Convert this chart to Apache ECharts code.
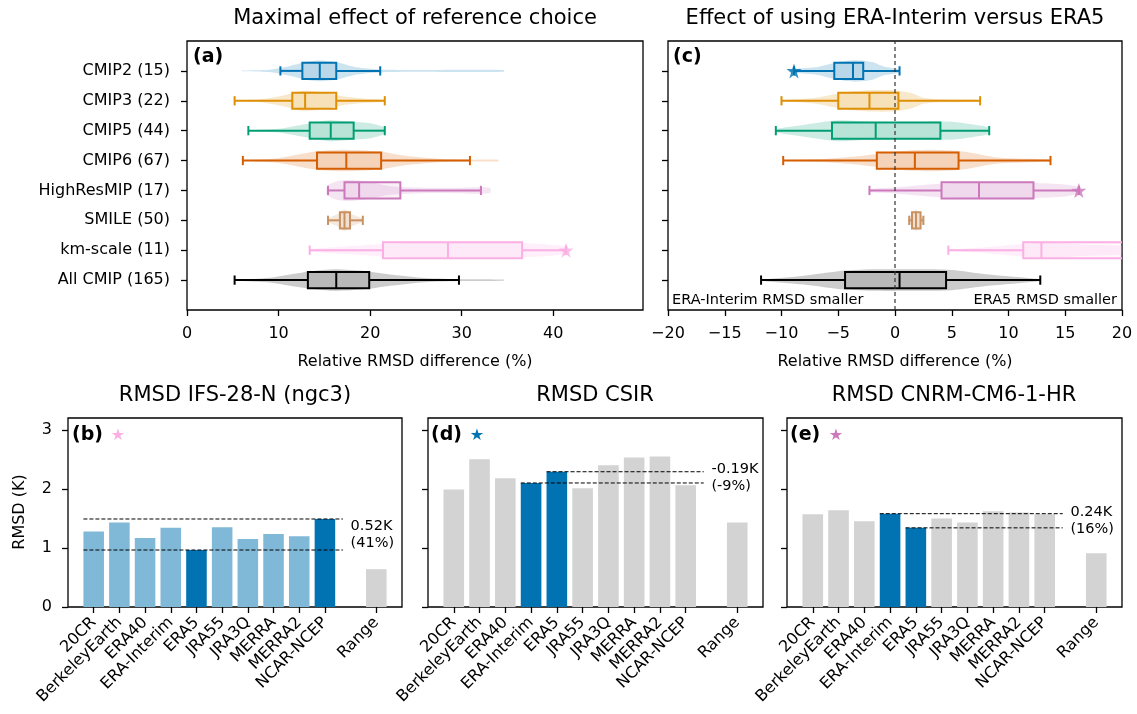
<!DOCTYPE html>
<html>
<head>
<meta charset="utf-8">
<script src="https://cdn.jsdelivr.net/npm/echarts@6/dist/echarts.min.js"></script>
<style>
  html, body { margin: 0; padding: 0; background: #fff; }
  #chart { width: 1137px; height: 714px; }
</style>
</head>
<body>
<div id="chart"></div>
<script>
// ---- data: top panels (row order from top to bottom) ----
var groupNames = ["CMIP2 (15)", "CMIP3 (22)", "CMIP5 (44)", "CMIP6 (67)",
  "HighResMIP (17)", "SMILE (50)", "km-scale (11)", "All CMIP (165)"];
var groupColors = ["#0173b2", "#de8f05", "#029e73", "#d55e00",
  "#cc78bc", "#ca9161", "#fbafe4", "#000000"];

// [whisker low, q1, median, q3, whisker high]
var maxEffectBox = [
  [10.2, 12.6, 14.5, 16.3, 21.1],
  [5.2, 11.5, 12.9, 16.3, 21.6],
  [6.7, 13.4, 15.7, 18.2, 21.6],
  [6.1, 14.2, 17.4, 21.2, 30.9],
  [15.4, 17.2, 18.8, 23.3, 32.1],
  [15.4, 16.7, 17.2, 17.8, 19.2],
  [13.4, 21.4, 28.5, 36.6, 41.4],
  [5.2, 13.2, 16.3, 19.9, 29.7]
];
var eraBox = [
  [-8.9, -5.35, -3.7, -2.8, 0.4],
  [-10.0, -5.0, -2.25, 0.3, 7.5],
  [-10.5, -5.55, -1.7, 4.0, 8.3],
  [-9.85, -1.6, 1.75, 5.6, 13.7],
  [-2.25, 4.1, 7.4, 12.2, 16.2],
  [1.25, 1.5, 1.85, 2.25, 2.5],
  [4.7, 11.3, 12.9, 24.0, 30.0],
  [-11.8, -4.4, 0.4, 4.5, 12.8]
];

// violin outlines: [value, half width in rows]
var maxEffectViolin = [
  [[6.0, 0.01], [9, 0.04], [11, 0.15], [13, 0.3], [14.5, 0.35], [16.5, 0.28], [18.5, 0.12], [21, 0.05], [25, 0.03], [30, 0.04], [34.6, 0.03]],
  [[5.2, 0.01], [8, 0.05], [10.5, 0.18], [12.5, 0.33], [14.5, 0.3], [17, 0.15], [19.5, 0.07], [21.6, 0.03]],
  [[6.7, 0.01], [10, 0.06], [13, 0.22], [15.5, 0.35], [18, 0.3], [20, 0.25], [21.6, 0.1]],
  [[6.1, 0.01], [10, 0.08], [14, 0.3], [17, 0.36], [21, 0.3], [24, 0.15], [28, 0.05], [31, 0.03], [34, 0.03]],
  [[15.3, 0.15], [16.5, 0.32], [18, 0.35], [20, 0.28], [22, 0.15], [25, 0.1], [29, 0.09], [32, 0.11], [33.1, 0.08]],
  [[15.4, 0.05], [16.4, 0.2], [17.2, 0.36], [18, 0.2], [19.2, 0.05]],
  [[13.4, 0.04], [17, 0.12], [21, 0.2], [25, 0.25], [30, 0.27], [35, 0.25], [39, 0.2], [41.6, 0.1]],
  [[5.2, 0.01], [9, 0.08], [12.5, 0.25], [16, 0.36], [19.5, 0.3], [22.5, 0.18], [26, 0.07], [30, 0.03], [34.6, 0.02]]
];
var eraViolin = [
  [[-9.2, 0.05], [-7, 0.12], [-5, 0.3], [-3.5, 0.36], [-2, 0.3], [-1, 0.15], [0.4, 0.05]],
  [[-10.0, 0.01], [-7, 0.1], [-4.5, 0.28], [-2, 0.36], [0, 0.35], [1.5, 0.25], [2.5, 0.1], [4, 0.05], [7.5, 0.03]],
  [[-10.5, 0.05], [-8, 0.2], [-5, 0.35], [-2, 0.3], [2, 0.3], [5, 0.3], [7, 0.2], [8.3, 0.1]],
  [[-9.85, 0.01], [-6, 0.06], [-3, 0.15], [0, 0.3], [3, 0.36], [6, 0.3], [9, 0.1], [13.7, 0.03]],
  [[-2.3, 0.05], [0, 0.1], [3, 0.2], [6, 0.26], [9, 0.26], [12, 0.25], [15, 0.2], [16.4, 0.08]],
  [[1.2, 0.05], [1.5, 0.2], [1.85, 0.36], [2.25, 0.2], [2.55, 0.05]],
  [[4.7, 0.02], [8, 0.1], [11, 0.2], [13, 0.26], [16, 0.2], [20, 0.15], [25, 0.15]],
  [[-11.8, 0.02], [-8, 0.15], [-5, 0.3], [-2, 0.36], [2, 0.36], [5, 0.34], [8, 0.2], [12.8, 0.03]]
];

// star markers: [value, group index]
var maxEffectStars = [[41.4, 6]];
var eraStars = [[-8.9, 0], [16.2, 4]];

// ---- data: bottom panels ----
var refNames = ["20CR", "BerkeleyEarth", "ERA40", "ERA-Interim", "ERA5",
  "JRA55", "JRA3Q", "MERRA", "MERRA2", "NCAR-NCEP"];
var rmsdIFS = [1.28, 1.43, 1.17, 1.34, 0.965, 1.35, 1.15, 1.235, 1.20, 1.49];
var rmsdCSIR = [1.99, 2.50, 2.18, 2.10, 2.29, 2.01, 2.40, 2.53, 2.55, 2.06];
var rmsdCNRM = [1.57, 1.64, 1.45, 1.58, 1.34, 1.50, 1.43, 1.62, 1.60, 1.57];
var rangeValues = [0.64, 1.43, 0.91];
var highlightIFS = [4, 9];
var highlightCSIR = [3, 4];
var highlightCNRM = [3, 4];
// dashed lines: [start bar index, value]
var linesIFS = [[0, 1.49], [0, 0.965]];
var linesCSIR = [[4, 2.29], [3, 2.10]];
var linesCNRM = [[3, 1.58], [4, 1.34]];
var textIFS = "0.52K\n(41%)";
var textCSIR = "-0.19K\n(-9%)";
var textCNRM = "0.24K\n(16%)";

var FONT = '"DejaVu Sans", sans-serif';
var DARK = "#0173b2", LIGHT = "#80b9d8", GREY = "#d3d3d3";
var STAR = "path://M50,0 L61.8,35.4 L99,35.4 L69,57.3 L80.4,92.7 L50,70.8 L19.6,92.7 L31,57.3 L1,35.4 L38.2,35.4 Z";

function rgba(hex, a) {
  var n = parseInt(hex.slice(1), 16);
  return "rgba(" + (n >> 16) + "," + ((n >> 8) & 255) + "," + (n & 255) + "," + a + ")";
}

var chart = echarts.init(document.getElementById("chart"));

function violinSeries(profiles, idx) {
  return {
    type: "custom", xAxisIndex: idx, yAxisIndex: idx, clip: true, z: 2,
    encode: { x: 1, y: 0 },
    data: profiles.map(function (p, i) { return [7 - i, p[0][0], i]; }),
    renderItem: function (params, api) {
      var row = api.value(0), gi = api.value(2);
      var prof = profiles[gi];
      var pts = [];
      prof.forEach(function (d) { pts.push(api.coord([d[0], row + d[1]])); });
      for (var k = prof.length - 1; k >= 0; k--) {
        pts.push(api.coord([prof[k][0], row - prof[k][1]]));
      }
      return {
        type: "polygon", shape: { points: pts, smooth: 0.25 },
        style: { fill: rgba(groupColors[gi], 0.2), stroke: null }
      };
    }
  };
}

function boxSeries(stats, idx) {
  return {
    type: "custom", xAxisIndex: idx, yAxisIndex: idx, clip: true, z: 3,
    encode: { x: 1, y: 0 },
    data: stats.map(function (s, i) { return [7 - i].concat(s).concat([i]); }),
    renderItem: function (params, api) {
      var row = api.value(0), lo = api.value(1), q1 = api.value(2),
        med = api.value(3), q3 = api.value(4), hi = api.value(5), gi = api.value(6);
      var c = groupColors[gi];
      var hb = 0.27, hc = 0.155;
      var tl = api.coord([q1, row + hb]), br = api.coord([q3, row - hb]);
      var mt = api.coord([med, row + hb]), mb = api.coord([med, row - hb]);
      var l = api.coord([lo, row]), h = api.coord([hi, row]);
      var lt = api.coord([lo, row + hc]), lb = api.coord([lo, row - hc]);
      var ht = api.coord([hi, row + hc]), hbm = api.coord([hi, row - hc]);
      var ls = { stroke: c, lineWidth: 2 };
      var fill = gi === 7 ? "rgba(150,150,150,0.35)" : rgba(c, 0.1);
      return {
        type: "group", children: [
          { type: "line", shape: { x1: l[0], y1: l[1], x2: tl[0], y2: l[1] }, style: ls },
          { type: "line", shape: { x1: br[0], y1: h[1], x2: h[0], y2: h[1] }, style: ls },
          { type: "line", shape: { x1: lt[0], y1: lt[1], x2: lb[0], y2: lb[1] }, style: ls },
          { type: "line", shape: { x1: ht[0], y1: ht[1], x2: hbm[0], y2: hbm[1] }, style: ls },
          { type: "rect", shape: { x: tl[0], y: tl[1], width: br[0] - tl[0], height: br[1] - tl[1] },
            style: { fill: fill, stroke: c, lineWidth: 2 } },
          { type: "line", shape: { x1: mt[0], y1: mt[1], x2: mb[0], y2: mb[1] }, style: ls }
        ]
      };
    }
  };
}

function starSeries(stars, idx) {
  return {
    type: "scatter", xAxisIndex: idx, yAxisIndex: idx, z: 5,
    symbol: STAR, symbolSize: 15, silent: true,
    data: stars.map(function (s) {
      return { value: [s[0], 7 - s[1]], itemStyle: { color: groupColors[s[1]] } };
    })
  };
}

function barSeries(values, range, highlight, baseColor, idx) {
  var data = values.map(function (v, i) {
    return [i, v, highlight.indexOf(i) >= 0 ? DARK : baseColor];
  });
  data.push([11, range, GREY]);
  return {
    type: "custom", xAxisIndex: idx, yAxisIndex: idx, z: 2,
    encode: { x: 0, y: 1 },
    data: data,
    renderItem: function (params, api) {
      var x = api.value(0), y = api.value(1);
      var a = api.coord([x - 0.4, y]), b = api.coord([x + 0.4, 0]);
      return {
        type: "rect", shape: { x: a[0], y: a[1], width: b[0] - a[0], height: b[1] - a[1] },
        style: { fill: data[params.dataIndex][2] }
      };
    }
  };
}

function annotSeries(lines, text, idx) {
  var mid = (lines[0][1] + lines[1][1]) / 2;
  return {
    type: "custom", xAxisIndex: idx, yAxisIndex: idx, z: 4,
    encode: { x: 0, y: 1 },
    data: [[lines[0][0], lines[0][1]], [lines[1][0], lines[1][1]]],
    renderItem: function (params, api) {
      var a = api.coord([api.value(0) - 0.4, api.value(1)]);
      var b = api.coord([9.7, api.value(1)]);
      var children = [{
        type: "line", shape: { x1: a[0], y1: a[1], x2: b[0], y2: b[1] },
        style: { stroke: "#000", lineWidth: 1, lineDash: [4, 2] }
      }];
      if (params.dataIndex === 0) {
        var t = api.coord([10.0, mid]);
        children.push({
          type: "text", x: t[0], y: t[1],
          style: { text: text, font: "14.5px " + FONT, fill: "#000",
            align: "left", verticalAlign: "middle", lineHeight: 17 }
        });
      }
      return { type: "group", children: children };
    }
  };
}

var tick = { show: true, inside: false, length: 6, lineStyle: { color: "#000", width: 1.3 } };
var noLine = { show: false, onZero: false };
var gridBase = { show: true, borderColor: "#000", borderWidth: 1.3, backgroundColor: "transparent", outerBoundsMode: "none" };
var rows = [0, 1, 2, 3, 4, 5, 6, 7];
var barTicks = [0, 1, 2, 3, 4, 5, 6, 7, 8, 9, 11];

function grid(left, top, width, height) {
  return Object.assign({ left: left, top: top, width: width, height: height }, gridBase);
}

var option = {
  animation: false,
  textStyle: { fontFamily: FONT },
  grid: [
    grid(187, 41, 456, 269),
    grid(668, 41, 454, 269),
    grid(68, 418, 334, 189),
    grid(428, 418, 335, 189),
    grid(787, 418, 335, 189)
  ],
  xAxis: [
    { type: "value", gridIndex: 0, min: 0, max: 49.8,
      axisLine: noLine, splitLine: { show: false },
      axisTick: Object.assign({ customValues: [0, 10, 20, 30, 40] }, tick),
      axisLabel: { customValues: [0, 10, 20, 30, 40], fontSize: 16, color: "#000", margin: 16, fontFamily: FONT } },
    { type: "value", gridIndex: 1, min: -20, max: 20, interval: 5,
      axisLine: noLine, splitLine: { show: false }, axisTick: tick,
      axisLabel: { fontSize: 16, color: "#000", margin: 16, fontFamily: FONT,
        formatter: function (v) { return v < 0 ? "\u2212" + Math.abs(v) : String(v); } } },
    { type: "value", gridIndex: 2, min: -1, max: 12 },
    { type: "value", gridIndex: 3, min: -1, max: 12 },
    { type: "value", gridIndex: 4, min: -1, max: 12 }
  ],
  yAxis: [
    { type: "value", gridIndex: 0, min: -1, max: 8,
      axisLine: noLine, splitLine: { show: false },
      axisTick: Object.assign({ customValues: rows }, tick),
      axisLabel: { customValues: rows, fontSize: 16, color: "#000", margin: 17, fontFamily: FONT,
        formatter: function (v) { return groupNames[7 - v]; } } },
    { type: "value", gridIndex: 1, min: -1, max: 8,
      axisLine: noLine, splitLine: { show: false },
      axisTick: Object.assign({ customValues: rows }, tick),
      axisLabel: { show: false } },
    { type: "value", gridIndex: 2, min: 0, max: 3.2 },
    { type: "value", gridIndex: 3, min: 0, max: 3.2 },
    { type: "value", gridIndex: 4, min: 0, max: 3.2 }
  ],
  series: [
    violinSeries(maxEffectViolin, 0),
    boxSeries(maxEffectBox, 0),
    starSeries(maxEffectStars, 0),
    violinSeries(eraViolin, 1),
    boxSeries(eraBox, 1),
    starSeries(eraStars, 1),
    { type: "line", xAxisIndex: 1, yAxisIndex: 1, z: 6, symbol: "none", silent: true,
      data: [[0, -1], [0, 8]], lineStyle: { color: "#333", width: 1.2, type: [4, 3] } },
    barSeries(rmsdIFS, rangeValues[0], highlightIFS, LIGHT, 2),
    barSeries(rmsdCSIR, rangeValues[1], highlightCSIR, GREY, 3),
    barSeries(rmsdCNRM, rangeValues[2], highlightCNRM, GREY, 4),
    annotSeries(linesIFS, textIFS, 2),
    annotSeries(linesCSIR, textCSIR, 3),
    annotSeries(linesCNRM, textCNRM, 4)
  ],
  graphic: [
    { type: "text", x: 415, y: 19, style: { text: "Maximal effect of reference choice", font: "21px " + FONT, fill: "#000", align: "center", verticalAlign: "middle" } },
    { type: "text", x: 895, y: 19, style: { text: "Effect of using ERA-Interim versus ERA5", font: "21px " + FONT, fill: "#000", align: "center", verticalAlign: "middle" } },
    { type: "text", x: 415, y: 362, style: { text: "Relative RMSD difference (%)", font: "16px " + FONT, fill: "#000", align: "center", verticalAlign: "middle" } },
    { type: "text", x: 895, y: 362, style: { text: "Relative RMSD difference (%)", font: "16px " + FONT, fill: "#000", align: "center", verticalAlign: "middle" } },
    { type: "text", x: 672, y: 300, style: { text: "ERA-Interim RMSD smaller", font: "14.5px " + FONT, fill: "#000", align: "left", verticalAlign: "middle" } },
    { type: "text", x: 1117, y: 300, style: { text: "ERA5 RMSD smaller", font: "14.5px " + FONT, fill: "#000", align: "right", verticalAlign: "middle" } },
    { type: "text", x: 193, y: 57, style: { text: "(a)", font: "bold 19px " + FONT, fill: "#000", verticalAlign: "middle" } },
    { type: "text", x: 673, y: 57, style: { text: "(c)", font: "bold 19px " + FONT, fill: "#000", verticalAlign: "middle" } },
    { type: "text", x: 235, y: 396, style: { text: "RMSD IFS-28-N (ngc3)", font: "21px " + FONT, fill: "#000", align: "center", verticalAlign: "middle" } },
    { type: "text", x: 595, y: 396, style: { text: "RMSD CSIR", font: "21px " + FONT, fill: "#000", align: "center", verticalAlign: "middle" } },
    { type: "text", x: 954, y: 396, style: { text: "RMSD CNRM-CM6-1-HR", font: "21px " + FONT, fill: "#000", align: "center", verticalAlign: "middle" } },
    { type: "text", x: 20, y: 512, rotation: Math.PI / 2, style: { text: "RMSD (K)", font: "16px " + FONT, fill: "#000", align: "center", verticalAlign: "middle" } },
    { type: "text", x: 72, y: 435, style: { text: "(b)", font: "bold 19px " + FONT, fill: "#000", verticalAlign: "middle" } },
    { type: "text", x: 431, y: 435, style: { text: "(d)", font: "bold 19px " + FONT, fill: "#000", verticalAlign: "middle" } },
    { type: "text", x: 790, y: 435, style: { text: "(e)", font: "bold 19px " + FONT, fill: "#000", verticalAlign: "middle" } },
    { type: "text", x: 118, y: 436, style: { text: "\u2605", font: "16px " + FONT, fill: "#fbafe4", align: "center", verticalAlign: "middle" } },
    { type: "text", x: 477, y: 436, style: { text: "\u2605", font: "16px " + FONT, fill: "#0173b2", align: "center", verticalAlign: "middle" } },
    { type: "text", x: 836, y: 436, style: { text: "\u2605", font: "16px " + FONT, fill: "#cc78bc", align: "center", verticalAlign: "middle" } }
  ]
};

// shared styling for the bar-panel axes
[2, 3, 4].forEach(function (i) {
  Object.assign(option.xAxis[i], {
    axisLine: noLine, splitLine: { show: false },
    axisTick: Object.assign({ customValues: barTicks }, tick),
    axisLabel: { customValues: barTicks, rotate: 45, fontSize: 16, color: "#000", margin: 13, fontFamily: FONT,
      formatter: function (v) { return v === 11 ? "Range" : refNames[v]; } }
  });
  Object.assign(option.yAxis[i], {
    axisLine: noLine, splitLine: { show: false },
    axisTick: Object.assign({ customValues: [0, 1, 2, 3] }, tick),
    axisLabel: { show: i === 2, customValues: [0, 1, 2, 3], fontSize: 16, color: "#000", margin: 16, fontFamily: FONT }
  });
});

chart.setOption(option);
</script>
</body>
</html>
